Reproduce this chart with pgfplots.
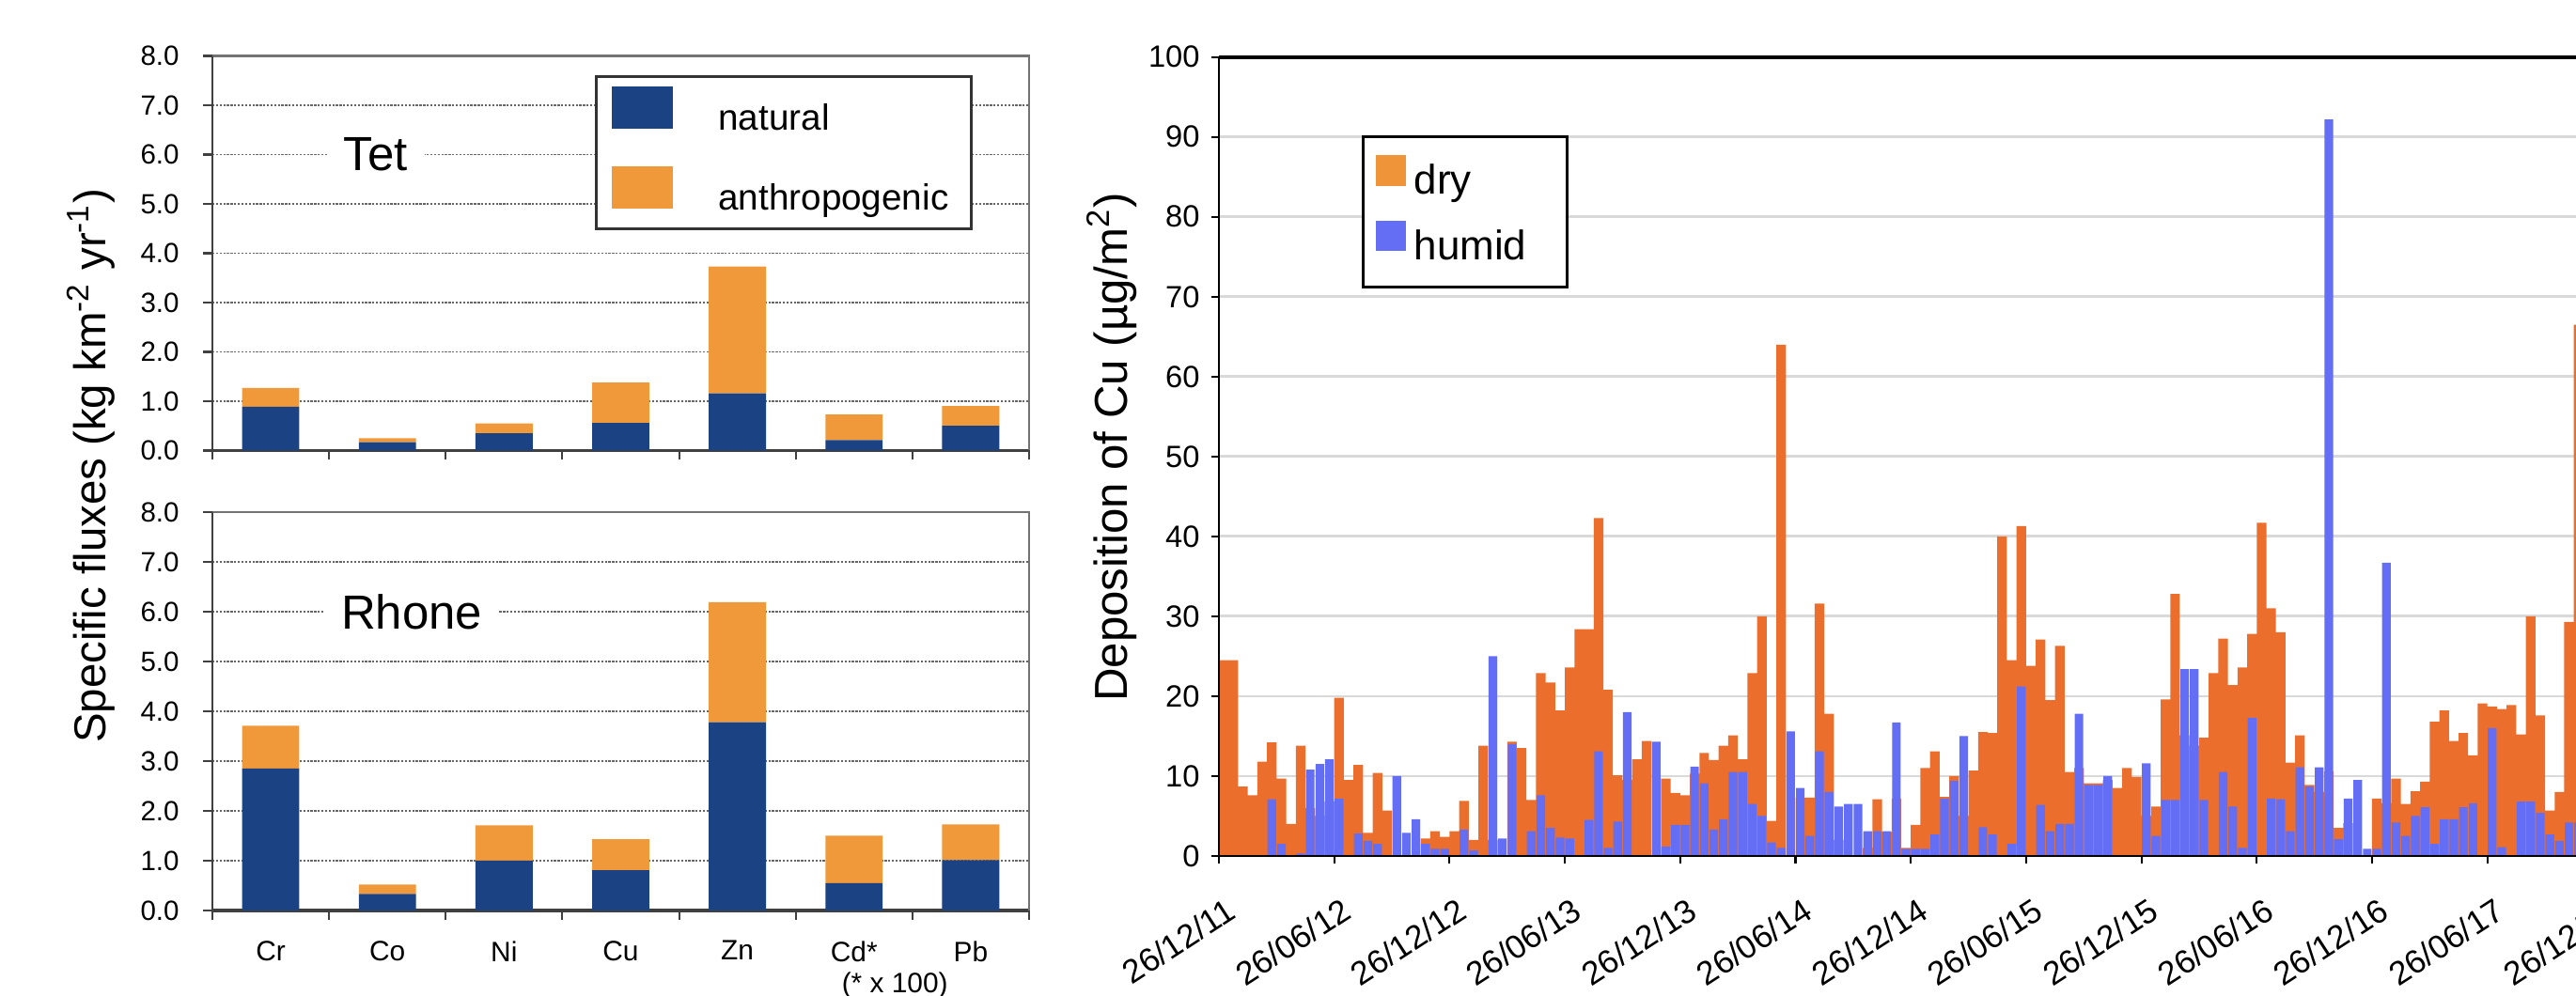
\documentclass[border=0pt]{standalone}
\usepackage{pgfplots}
\pgfplotsset{compat=1.18}
\usepackage{pgfplotstable}
\usepackage{fontspec}
\setmainfont{Liberation Sans}
\definecolor{natblue}{HTML}{1B4282}
\definecolor{anthor}{HTML}{F0993B}
\definecolor{dryc}{HTML}{EB6E2C}
\definecolor{dryleg}{HTML}{F0943A}
\definecolor{humidc}{HTML}{646EF5}
\definecolor{gridlt}{HTML}{D9D9D9}

\pgfplotstableread{
x dry hum
0.25 24.5 0
0.75 24.5 0
1.25 8.7 0
1.75 7.6 0
2.25 11.8 0
2.75 14.2 7.1
3.25 9.7 1.5
3.75 4.0 0
4.25 13.8 0.3
4.75 6.0 10.8
5.25 5.0 11.5
5.75 6.8 12.1
6.25 19.8 7.2
6.75 9.5 0
7.25 11.4 2.8
7.75 2.9 1.9
8.25 10.4 1.5
8.75 5.7 0
9.25 0 10.0
9.75 0 2.9
10.25 0 4.6
10.75 2.2 1.5
11.25 3.1 0.9
11.75 2.4 0.9
12.25 3.1 0
12.75 6.9 3.3
13.25 2.0 0.7
13.75 13.8 0
14.25 2.0 25.0
14.75 0 2.2
15.25 14.3 14.0
15.75 13.5 0
16.25 7.0 3.1
16.75 22.9 7.6
17.25 21.7 3.5
17.75 18.2 2.3
18.25 23.6 2.2
18.75 28.4 0
19.25 28.4 4.5
19.75 42.3 13.1
20.25 20.8 1.0
20.75 10.1 4.3
21.25 9.5 18.0
21.75 12.1 0
22.25 14.4 0
22.75 0 14.3
23.25 9.7 1.2
23.75 7.9 3.9
24.25 7.6 3.9
24.75 10.3 11.2
25.25 12.9 9.1
25.75 12.0 3.3
26.25 13.8 4.6
26.75 15.1 10.5
27.25 12.1 10.5
27.75 22.9 6.5
28.25 30.0 5.0
28.75 4.4 1.7
29.25 64.0 1.0
29.75 0 15.6
30.25 7.3 8.5
30.75 7.3 2.5
31.25 31.6 13.1
31.75 17.8 8.0
32.25 2.0 6.2
32.75 0 6.5
33.25 0 6.5
33.75 1.0 3.1
34.25 7.1 3.1
34.75 3.0 3.1
35.25 7.2 16.7
35.75 1.0 0.9
36.25 3.9 0.9
36.75 11.0 0.9
37.25 13.1 2.7
37.75 7.4 7.2
38.25 10.0 9.4
38.75 5.0 15.0
39.25 10.7 0
39.75 15.5 3.6
40.25 15.4 2.7
40.75 40.0 0
41.25 24.5 1.5
41.75 41.3 21.2
42.25 23.8 0
42.75 27.1 6.4
43.25 19.5 3.1
43.75 26.3 4.0
44.25 10.5 4.0
44.75 11.0 17.8
45.25 9.1 8.9
45.75 9.1 8.9
46.25 9.5 10.0
46.75 8.5 0
47.25 11.0 0
47.75 9.9 0
48.25 5.0 11.6
48.75 6.2 2.5
49.25 19.6 7.0
49.75 32.8 7.0
50.25 15.1 23.4
50.75 13.8 23.4
51.25 14.8 7.0
51.75 22.9 0
52.25 27.2 10.5
52.75 21.4 6.2
53.25 23.6 1.0
53.75 27.8 17.3
54.25 41.7 0
54.75 31.0 7.2
55.25 28.0 7.1
55.75 11.7 3.1
56.25 15.1 11.1
56.75 8.9 8.7
57.25 8.0 11.1
57.75 10.6 92.2
58.25 3.5 2.1
58.75 4.1 7.2
59.25 0 9.5
59.75 0 0.9
60.25 7.2 0.9
60.75 6.6 36.7
61.25 9.7 4.2
61.75 6.5 2.5
62.25 8.1 5.0
62.75 9.3 6.1
63.25 16.8 1.5
63.75 18.2 4.6
64.25 14.4 4.6
64.75 15.4 6.1
65.25 12.6 6.6
65.75 19.1 0
66.25 18.7 16.0
66.75 18.4 1.1
67.25 18.9 0
67.75 15.2 6.8
68.25 30.0 6.8
68.75 17.6 5.4
69.25 5.7 2.7
69.75 8.0 1.9
70.25 29.3 4.2
70.75 66.5 4.2
}\depo

\pgfplotstableread{
x nat ant
1 0.89 0.38
2 0.17 0.08
3 0.35 0.20
4 0.56 0.82
5 1.16 2.57
6 0.21 0.52
7 0.50 0.40
}\tet

\pgfplotstableread{
x nat ant
1 2.85 0.86
2 0.33 0.19
3 1.00 0.71
4 0.81 0.62
5 3.78 2.41
6 0.55 0.95
7 1.01 0.72
}\rhone

\pgfplotsset{
  fluxaxis/.style={
    anchor=south west, scale only axis, width=8.69cm,
    ybar stacked, bar width=0.49,
    xmin=0.5, xmax=7.5, ymin=0, ymax=8,
    xtick={0.5,1.5,...,7.5}, xticklabels={},
    ytick={0,1,...,8},
    tick align=outside, major tick length=0.1cm,
    xtick pos=left, ytick pos=left,
    major tick style={draw=black!75, line width=0.6pt},
    ymajorgrids, grid style={draw=black!60, line width=0.55pt, dash pattern=on 0.65pt off 0.45pt},
    axis line style={draw=none}, clip=false,
    yticklabel style={font=\fontsize{8.4}{10}\selectfont, xshift=-0.13cm,
      /pgf/number format/.cd, fixed, fixed zerofill, precision=1, assume math mode=true},
  },
}

\begin{document}
\begin{tikzpicture}
\path[use as bounding box] (0,0) rectangle (27.41cm,10.6cm);
\clip (0,0) rectangle (27.41cm,10.6cm);

% ---------------- Tet ----------------
\begin{axis}[fluxaxis, at={(2.26cm,5.805cm)}, height=4.20cm,
  legend style={at={(axis cs:3.78,7.606)}, anchor=north west, draw=black!80, line width=0.8pt,
    fill=white, inner xsep=0.16cm, inner ysep=0.105cm, row sep=0.30cm, column sep=0.48cm,
    font=\fontsize{11}{13}\selectfont,
    nodes={inner sep=0pt, text height=0.33cm, text depth=0.09cm}},
  legend cell align=left]
\addlegendimage{legend image code/.code={\fill[natblue] (0cm,-0.09cm) rectangle (0.63cm,0.33cm);}}
\addlegendentry{natural}
\addlegendimage{legend image code/.code={\fill[anthor] (0cm,-0.09cm) rectangle (0.63cm,0.33cm);}}
\addlegendentry{anthropogenic\hspace*{0.08cm}}
\addplot[fill=natblue, draw=none] table[x=x, y=nat] {\tet};
\addplot[fill=anthor, draw=none] table[x=x, y=ant] {\tet};
\draw[black!75, line width=0.85pt] (rel axis cs:0,0) -- (rel axis cs:0,1);
\draw[black!55, line width=0.6pt] (rel axis cs:0,1) -- (rel axis cs:1,1) -- (rel axis cs:1,0);
\draw[black!75, line width=0.9pt] (rel axis cs:0,0) -- (rel axis cs:1,0);
\node[fill=white, inner xsep=0.18cm, inner ysep=1pt, font=\fontsize{14.5}{17}\selectfont] at (axis cs:1.90,6) {Tet};
\end{axis}

% ---------------- Rhone ----------------
\begin{axis}[fluxaxis, at={(2.26cm,0.91cm)}, height=4.24cm,
  extra x ticks={1,...,7}, extra x tick labels={Cr,Co,Ni,Cu,Zn,Cd*,Pb},
  extra x tick style={major tick length=0pt, xticklabel style={font=\fontsize{8.5}{10}\selectfont, yshift=-0.2cm}},
  ylabel={Specific fluxes (kg km\textsuperscript{-2} yr\textsuperscript{-1})},
  every axis y label/.style={at={(axis description cs:-0.1484,1.1156)}, rotate=90, anchor=center, font=\fontsize{13.5}{16}\selectfont}]
\addplot[fill=natblue, draw=none] table[x=x, y=nat] {\rhone};
\addplot[fill=anthor, draw=none] table[x=x, y=ant] {\rhone};
\draw[black!75, line width=0.85pt] (rel axis cs:0,0) -- (rel axis cs:0,1);
\draw[black!55, line width=0.6pt] (rel axis cs:0,1) -- (rel axis cs:1,1) -- (rel axis cs:1,0);
\draw[black!75, line width=0.9pt] (rel axis cs:0,0) -- (rel axis cs:1,0);
\node[fill=white, inner xsep=0.18cm, inner ysep=1pt, font=\fontsize{14.5}{17}\selectfont] at (axis cs:2.21,6) {Rhone};
\node[anchor=base, font=\fontsize{8.5}{10}\selectfont] at (axis cs:6.35,-1.66) {(* x 100)};
\end{axis}

% ---------------- Deposition of Cu ----------------
\begin{axis}[
  at={(12.97cm,1.49cm)}, anchor=south west, scale only axis,
  width=15.3375cm, height=8.503cm,
  xmin=0, xmax=75, ymin=0, ymax=100,
  xtick={0,6,...,72},
  xticklabels={26/12/11,26/06/12,26/12/12,26/06/13,26/12/13,26/06/14,26/12/14,26/06/15,26/12/15,26/06/16,26/12/16,26/06/17,26/12/17},
  ytick={0,10,...,100},
  tick align=outside, major tick length=0.08cm,
  xtick pos=left, ytick pos=left,
  major tick style={black, line width=0.6pt},
  ymajorgrids, grid style={gridlt, line width=0.8pt},
  axis line style={draw=none}, clip=false,
  yticklabel style={font=\fontsize{9.3}{11}\selectfont, /pgf/number format/assume math mode=true},
  xticklabel style={font=\fontsize{10}{12}\selectfont, xshift=0.1cm, yshift=-0.18cm, rotate=33, anchor=north east},
  ylabel={Deposition of Cu (µg/m\textsuperscript{2})},
  every axis y label/.style={at={(axis description cs:-0.0743,0.5116)}, rotate=90, anchor=center, font=\fontsize{14}{16}\selectfont},
  legend style={at={(axis cs:7.43,90.2)}, anchor=north west, draw=black, line width=0.8pt,
    fill=white, inner xsep=0.135cm, inner ysep=0.2cm, row sep=0.19cm, column sep=0.085cm,
    font=\fontsize{12.5}{15}\selectfont,
    nodes={inner sep=0pt, text height=0.30cm, text depth=0.09cm}},
  legend cell align=left]
\addlegendimage{legend image code/.code={\fill[dryleg] (0cm,0cm) rectangle (0.295cm,0.295cm);}}
\addlegendentry{dry}
\addlegendimage{legend image code/.code={\fill[humidc] (0cm,0cm) rectangle (0.295cm,0.295cm);}}
\addlegendentry{humid\hspace*{0.3cm}}
\addplot[ybar, bar width=0.5, bar shift=0pt, fill=dryc, draw=none] table[x=x, y=dry] {\depo};
\addplot[ybar, bar width=0.45, bar shift=0pt, fill=humidc, draw=none] table[x=x, y=hum] {\depo};
\draw[black, line width=0.8pt] (rel axis cs:0,0) -- (rel axis cs:0,1);
\draw[black, line width=1.1pt] (rel axis cs:0,1) -- (rel axis cs:1,1);
\draw[black, line width=0.6pt] (rel axis cs:0,0) -- (rel axis cs:1,0);
\end{axis}
\end{tikzpicture}
\end{document}
